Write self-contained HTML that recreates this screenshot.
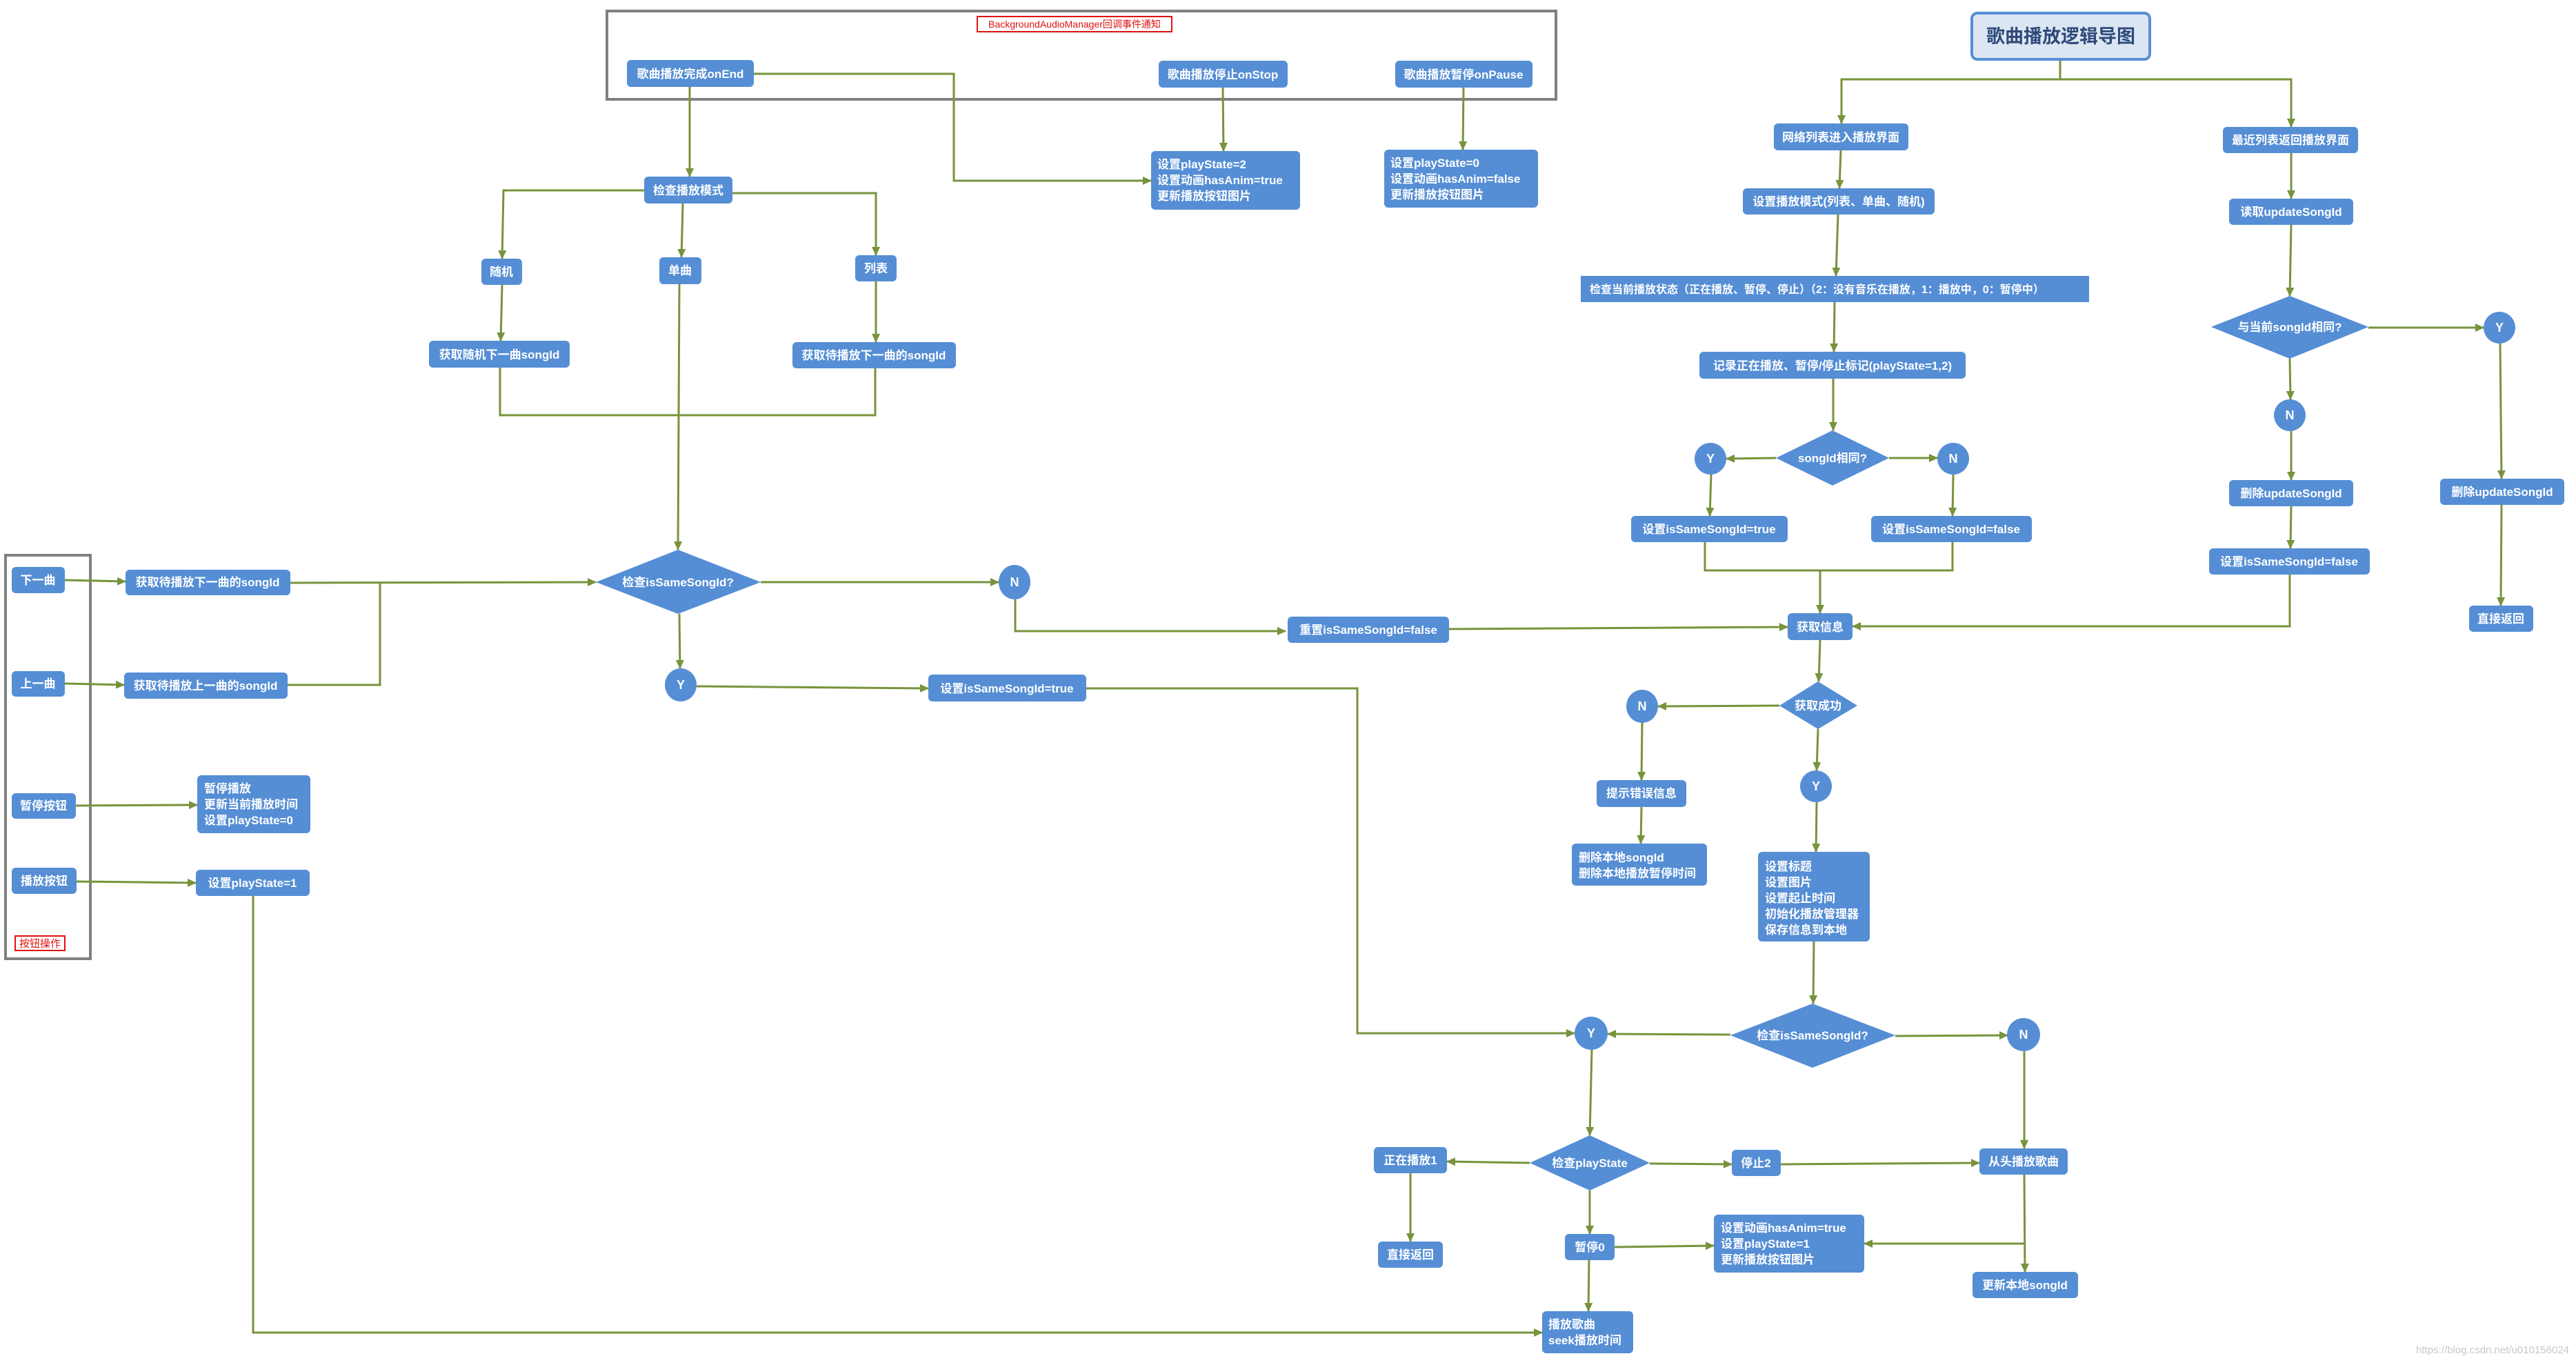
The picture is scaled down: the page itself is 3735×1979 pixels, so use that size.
<!DOCTYPE html>
<html><head><meta charset="utf-8"><style>
html,body{margin:0;padding:0;background:#fff;}
svg{display:block;}
text{font-family:"Liberation Sans","Noto Sans CJK SC",sans-serif;font-weight:bold;fill:#fff;font-size:17px;}
.c{text-anchor:middle;}
.n{fill:#558ED5;}
.l{fill:none;stroke:#77933C;stroke-width:3;}
</style></head><body>
<svg width="3735" height="1979" viewBox="0 0 3735 1979" xmlns="http://www.w3.org/2000/svg">
<defs>
<marker id="a" markerUnits="userSpaceOnUse" markerWidth="14" markerHeight="14" refX="12" refY="7" orient="auto"><path d="M0,1 L13,7 L0,13 z" fill="#77933C"/></marker>
</defs>
<rect width="3735" height="1979" fill="#fff"/>
<!-- frames -->
<rect x="880" y="16" width="1376" height="128" fill="none" stroke="#808080" stroke-width="4"/>
<rect x="1417" y="24" width="282" height="22" fill="#fff" stroke="#e01010" stroke-width="2"/>
<text x="1558" y="40" class="c" style="fill:#e01010;font-weight:normal;font-size:14px">BackgroundAudioManager回调事件通知</text>
<rect x="8" y="805" width="123" height="585" fill="none" stroke="#808080" stroke-width="4"/>
<rect x="22" y="1357" width="72" height="21" fill="#fff" stroke="#e01010" stroke-width="2"/>
<text x="58" y="1373" class="c" style="fill:#e01010;font-weight:normal;font-size:15px">按钮操作</text>

<!-- connectors -->
<g class="l">
<polyline points="1000,126 1000,256" marker-end="url(#a)"/>
<polyline points="1093,107 1383,107 1383,262 1669,262" marker-end="url(#a)"/>
<polyline points="1773,127 1774,219" marker-end="url(#a)"/>
<polyline points="2122,127 2121,217" marker-end="url(#a)"/>
<polyline points="934,276 730,276 728,375" marker-end="url(#a)"/>
<polyline points="990,295 988,373" marker-end="url(#a)"/>
<polyline points="1062,280 1270,280 1270,370" marker-end="url(#a)"/>
<polyline points="728,413 726,494" marker-end="url(#a)"/>
<polyline points="1270,408 1270,496" marker-end="url(#a)"/>
<polyline points="725,533 725,602 1269,602 1269,534"/>
<polyline points="985,412 983,797" marker-end="url(#a)"/>
<polyline points="94,841 182,843" marker-end="url(#a)"/>
<polyline points="94,991 180,993" marker-end="url(#a)"/>
<polyline points="421,845 864,844" marker-end="url(#a)"/>
<polyline points="417,993 551,993 551,845"/>
<polyline points="1103,844 1448,844" marker-end="url(#a)"/>
<polyline points="1472,868 1472,915 1864,915" marker-end="url(#a)"/>
<polyline points="985,890 986,969" marker-end="url(#a)"/>
<polyline points="1010,995 1346,998" marker-end="url(#a)"/>
<polyline points="1575,998 1968,998 1968,1498 2283,1498" marker-end="url(#a)"/>
<polyline points="110,1168 286,1167" marker-end="url(#a)"/>
<polyline points="111,1278 284,1280" marker-end="url(#a)"/>
<polyline points="367,1299 367,1932 2236,1932" marker-end="url(#a)"/>
<polyline points="2101,912 2592,909" marker-end="url(#a)"/>
<polyline points="2987,88 2987,115 2670,115 2670,179" marker-end="url(#a)"/>
<polyline points="2987,115 3322,115 3322,184" marker-end="url(#a)"/>
<polyline points="2669,218 2667,273" marker-end="url(#a)"/>
<polyline points="2665,311 2662,400" marker-end="url(#a)"/>
<polyline points="2660,438 2659,510" marker-end="url(#a)"/>
<polyline points="2658,549 2658,624" marker-end="url(#a)"/>
<polyline points="2575,664 2503,665" marker-end="url(#a)"/>
<polyline points="2739,664 2809,664" marker-end="url(#a)"/>
<polyline points="2481,688 2479,748" marker-end="url(#a)"/>
<polyline points="2832,688 2831,748" marker-end="url(#a)"/>
<polyline points="2472,786 2472,827 2831,827 2831,786"/>
<polyline points="2639,827 2639,889" marker-end="url(#a)"/>
<polyline points="3322,222 3322,288" marker-end="url(#a)"/>
<polyline points="3322,326 3320,429" marker-end="url(#a)"/>
<polyline points="3434,475 3601,475" marker-end="url(#a)"/>
<polyline points="3320,520 3321,579" marker-end="url(#a)"/>
<polyline points="3322,625 3322,696" marker-end="url(#a)"/>
<polyline points="3322,734 3321,795" marker-end="url(#a)"/>
<polyline points="3320,833 3320,908 2686,908" marker-end="url(#a)"/>
<polyline points="3625,498 3627,694" marker-end="url(#a)"/>
<polyline points="3627,732 3626,878" marker-end="url(#a)"/>
<polyline points="2639,928 2637,988" marker-end="url(#a)"/>
<polyline points="2580,1023 2404,1024" marker-end="url(#a)"/>
<polyline points="2636,1057 2634,1117" marker-end="url(#a)"/>
<polyline points="2381,1047 2380,1131" marker-end="url(#a)"/>
<polyline points="2380,1170 2379,1223" marker-end="url(#a)"/>
<polyline points="2634,1163 2633,1235" marker-end="url(#a)"/>
<polyline points="2630,1365 2629,1455" marker-end="url(#a)"/>
<polyline points="2509,1500 2331,1499" marker-end="url(#a)"/>
<polyline points="2748,1502 2911,1501" marker-end="url(#a)"/>
<polyline points="2308,1521 2305,1646" marker-end="url(#a)"/>
<polyline points="2935,1524 2935,1665" marker-end="url(#a)"/>
<polyline points="2218,1686 2098,1684" marker-end="url(#a)"/>
<polyline points="2392,1687 2511,1688" marker-end="url(#a)"/>
<polyline points="2582,1688 2870,1686" marker-end="url(#a)"/>
<polyline points="2045,1701 2045,1800" marker-end="url(#a)"/>
<polyline points="2305,1726 2305,1789" marker-end="url(#a)"/>
<polyline points="2304,1827 2303,1901" marker-end="url(#a)"/>
<polyline points="2341,1808 2485,1806" marker-end="url(#a)"/>
<polyline points="2935,1703 2936,1844" marker-end="url(#a)"/>
<polyline points="2935,1803 2703,1803" marker-end="url(#a)"/>
</g>

<!-- title -->
<rect x="2859" y="19" width="258" height="67" rx="8" fill="#DCE6F2" stroke="#558ED5" stroke-width="4"/>
<text x="2988" y="62" class="c" style="fill:#2E4A7A;font-size:27px">歌曲播放逻辑导图</text>

<!-- nodes -->
<g class="n">
<rect x="909" y="87" width="184" height="39" rx="6"/>
<rect x="1680" y="88" width="187" height="39" rx="6"/>
<rect x="2023" y="88" width="199" height="39" rx="6"/>
<rect x="1669" y="219" width="216" height="85" rx="6"/>
<rect x="2007" y="217" width="223" height="84" rx="6"/>
<rect x="934" y="256" width="128" height="39" rx="6"/>
<rect x="698" y="375" width="59" height="38" rx="6"/>
<rect x="956" y="373" width="61" height="39" rx="6"/>
<rect x="1240" y="370" width="60" height="38" rx="6"/>
<rect x="622" y="494" width="204" height="39" rx="6"/>
<rect x="1149" y="496" width="237" height="38" rx="6"/>
<rect x="17" y="822" width="77" height="38" rx="6"/>
<rect x="17" y="973" width="77" height="37" rx="6"/>
<rect x="17" y="1150" width="93" height="37" rx="6"/>
<rect x="17" y="1258" width="94" height="38" rx="6"/>
<rect x="182" y="826" width="239" height="37" rx="6"/>
<rect x="180" y="975" width="237" height="38" rx="6"/>
<rect x="286" y="1124" width="164" height="84" rx="6"/>
<rect x="284" y="1261" width="165" height="38" rx="6"/>
<polygon points="864,844 983,797 1103,844 983,890"/>
<ellipse cx="1471" cy="844" rx="23" ry="25"/>
<ellipse cx="987" cy="993" rx="23" ry="24"/>
<rect x="1346" y="978" width="229" height="39" rx="6"/>
<rect x="1867" y="894" width="234" height="38" rx="6"/>
<rect x="2572" y="179" width="195" height="39" rx="6"/>
<rect x="2527" y="273" width="278" height="38" rx="6"/>
<rect x="2292" y="400" width="737" height="38"/>
<rect x="2464" y="510" width="386" height="39" rx="6"/>
<polygon points="2575,664 2657,624 2739,664 2657,704"/>
<ellipse cx="2480" cy="665" rx="23" ry="23"/>
<ellipse cx="2832" cy="665" rx="23" ry="23"/>
<rect x="2365" y="748" width="227" height="38" rx="6"/>
<rect x="2713" y="748" width="233" height="38" rx="6"/>
<rect x="2592" y="889" width="94" height="39" rx="6"/>
<rect x="3223" y="184" width="196" height="38" rx="6"/>
<rect x="3232" y="288" width="180" height="38" rx="6"/>
<polygon points="3206,474 3320,429 3434,474 3320,520"/>
<ellipse cx="3624" cy="475" rx="23" ry="23"/>
<ellipse cx="3320" cy="602" rx="23" ry="23"/>
<rect x="3232" y="696" width="180" height="38" rx="6"/>
<rect x="3203" y="795" width="233" height="38" rx="6"/>
<rect x="3538" y="694" width="180" height="38" rx="6"/>
<rect x="3580" y="878" width="93" height="38" rx="6"/>
<polygon points="2580,1023 2636,988 2693,1023 2636,1057"/>
<ellipse cx="2381" cy="1024" rx="23" ry="24"/>
<ellipse cx="2633" cy="1140" rx="23" ry="23"/>
<rect x="2315" y="1131" width="130" height="39" rx="6"/>
<rect x="2279" y="1223" width="196" height="61" rx="6"/>
<rect x="2549" y="1235" width="162" height="130" rx="6"/>
<polygon points="2509,1501 2628,1455 2748,1501 2628,1548"/>
<ellipse cx="2307" cy="1498" rx="24" ry="24"/>
<ellipse cx="2934" cy="1500" rx="24" ry="24"/>
<polygon points="2218,1686 2305,1646 2392,1686 2305,1726"/>
<rect x="1992" y="1663" width="106" height="38" rx="6"/>
<rect x="2511" y="1667" width="71" height="38" rx="6"/>
<rect x="2870" y="1665" width="128" height="38" rx="6"/>
<rect x="1998" y="1800" width="94" height="38" rx="6"/>
<rect x="2269" y="1789" width="72" height="38" rx="6"/>
<rect x="2485" y="1761" width="218" height="84" rx="6"/>
<rect x="2860" y="1844" width="153" height="38" rx="6"/>
<rect x="2236" y="1901" width="132" height="61" rx="6"/>
</g>

<!-- labels -->
<g>
<text x="1001" y="113" class="c">歌曲播放完成onEnd</text>
<text x="1773" y="114" class="c">歌曲播放停止onStop</text>
<text x="2122" y="114" class="c">歌曲播放暂停onPause</text>
<text x="1678" y="244">设置playState=2</text>
<text x="1678" y="267">设置动画hasAnim=true</text>
<text x="1678" y="290">更新播放按钮图片</text>
<text x="2016" y="242">设置playState=0</text>
<text x="2016" y="265">设置动画hasAnim=false</text>
<text x="2016" y="288">更新播放按钮图片</text>
<text x="998" y="282" class="c">检查播放模式</text>
<text x="727" y="400" class="c">随机</text>
<text x="986" y="398" class="c">单曲</text>
<text x="1270" y="395" class="c">列表</text>
<text x="724" y="520" class="c">获取随机下一曲songId</text>
<text x="1267" y="521" class="c">获取待播放下一曲的songId</text>
<text x="55" y="847" class="c">下一曲</text>
<text x="55" y="997" class="c">上一曲</text>
<text x="63" y="1174" class="c">暂停按钮</text>
<text x="64" y="1283" class="c">播放按钮</text>
<text x="301" y="850" class="c">获取待播放下一曲的songId</text>
<text x="298" y="1000" class="c">获取待播放上一曲的songId</text>
<text x="296" y="1149">暂停播放</text>
<text x="296" y="1172">更新当前播放时间</text>
<text x="296" y="1195">设置playState=0</text>
<text x="366" y="1286" class="c">设置playState=1</text>
<text x="983" y="850" class="c">检查isSameSongId?</text>
<text x="1471" y="850" class="c" style="font-size:18px">N</text>
<text x="987" y="999" class="c" style="font-size:18px">Y</text>
<text x="1460" y="1004" class="c">设置isSameSongId=true</text>
<text x="1984" y="919" class="c">重置isSameSongId=false</text>
<text x="2669" y="205" class="c">网络列表进入播放界面</text>
<text x="2666" y="298" class="c">设置播放模式(列表、单曲、随机)</text>
<text x="2305" y="425" style="font-size:16px">检查当前播放状态（正在播放、暂停、停止）（2：没有音乐在播放，1：播放中，0：暂停中）</text>
<text x="2657" y="536" class="c">记录正在播放、暂停/停止标记(playState=1,2)</text>
<text x="2657" y="670" class="c">songId相同?</text>
<text x="2480" y="671" class="c" style="font-size:18px">Y</text>
<text x="2832" y="671" class="c" style="font-size:18px">N</text>
<text x="2478" y="773" class="c">设置isSameSongId=true</text>
<text x="2829" y="773" class="c">设置isSameSongId=false</text>
<text x="2639" y="915" class="c">获取信息</text>
<text x="3321" y="209" class="c">最近列表返回播放界面</text>
<text x="3322" y="313" class="c">读取updateSongId</text>
<text x="3320" y="480" class="c">与当前songId相同?</text>
<text x="3624" y="481" class="c" style="font-size:18px">Y</text>
<text x="3320" y="608" class="c" style="font-size:18px">N</text>
<text x="3322" y="721" class="c">删除updateSongId</text>
<text x="3319" y="820" class="c">设置isSameSongId=false</text>
<text x="3628" y="719" class="c">删除updateSongId</text>
<text x="3626" y="903" class="c">直接返回</text>
<text x="2636" y="1029" class="c">获取成功</text>
<text x="2381" y="1030" class="c" style="font-size:18px">N</text>
<text x="2633" y="1146" class="c" style="font-size:18px">Y</text>
<text x="2380" y="1156" class="c">提示错误信息</text>
<text x="2289" y="1249">删除本地songId</text>
<text x="2289" y="1272">删除本地播放暂停时间</text>
<text x="2559" y="1262">设置标题</text>
<text x="2559" y="1285">设置图片</text>
<text x="2559" y="1308">设置起止时间</text>
<text x="2559" y="1331">初始化播放管理器</text>
<text x="2559" y="1354">保存信息到本地</text>
<text x="2628" y="1507" class="c">检查isSameSongId?</text>
<text x="2307" y="1504" class="c" style="font-size:18px">Y</text>
<text x="2934" y="1506" class="c" style="font-size:18px">N</text>
<text x="2305" y="1692" class="c">检查playState</text>
<text x="2045" y="1688" class="c">正在播放1</text>
<text x="2546" y="1692" class="c">停止2</text>
<text x="2934" y="1690" class="c">从头播放歌曲</text>
<text x="2045" y="1825" class="c">直接返回</text>
<text x="2305" y="1814" class="c">暂停0</text>
<text x="2495" y="1786">设置动画hasAnim=true</text>
<text x="2495" y="1809">设置playState=1</text>
<text x="2495" y="1832">更新播放按钮图片</text>
<text x="2936" y="1869" class="c">更新本地songId</text>
<text x="2245" y="1926">播放歌曲</text>
<text x="2245" y="1949">seek播放时间</text>
<text x="3725" y="1962" style="fill:#c8c8c8;font-weight:normal;font-size:15px;text-anchor:end">https://blog.csdn.net/u010156024</text>
</g>
</svg>
</body></html>
